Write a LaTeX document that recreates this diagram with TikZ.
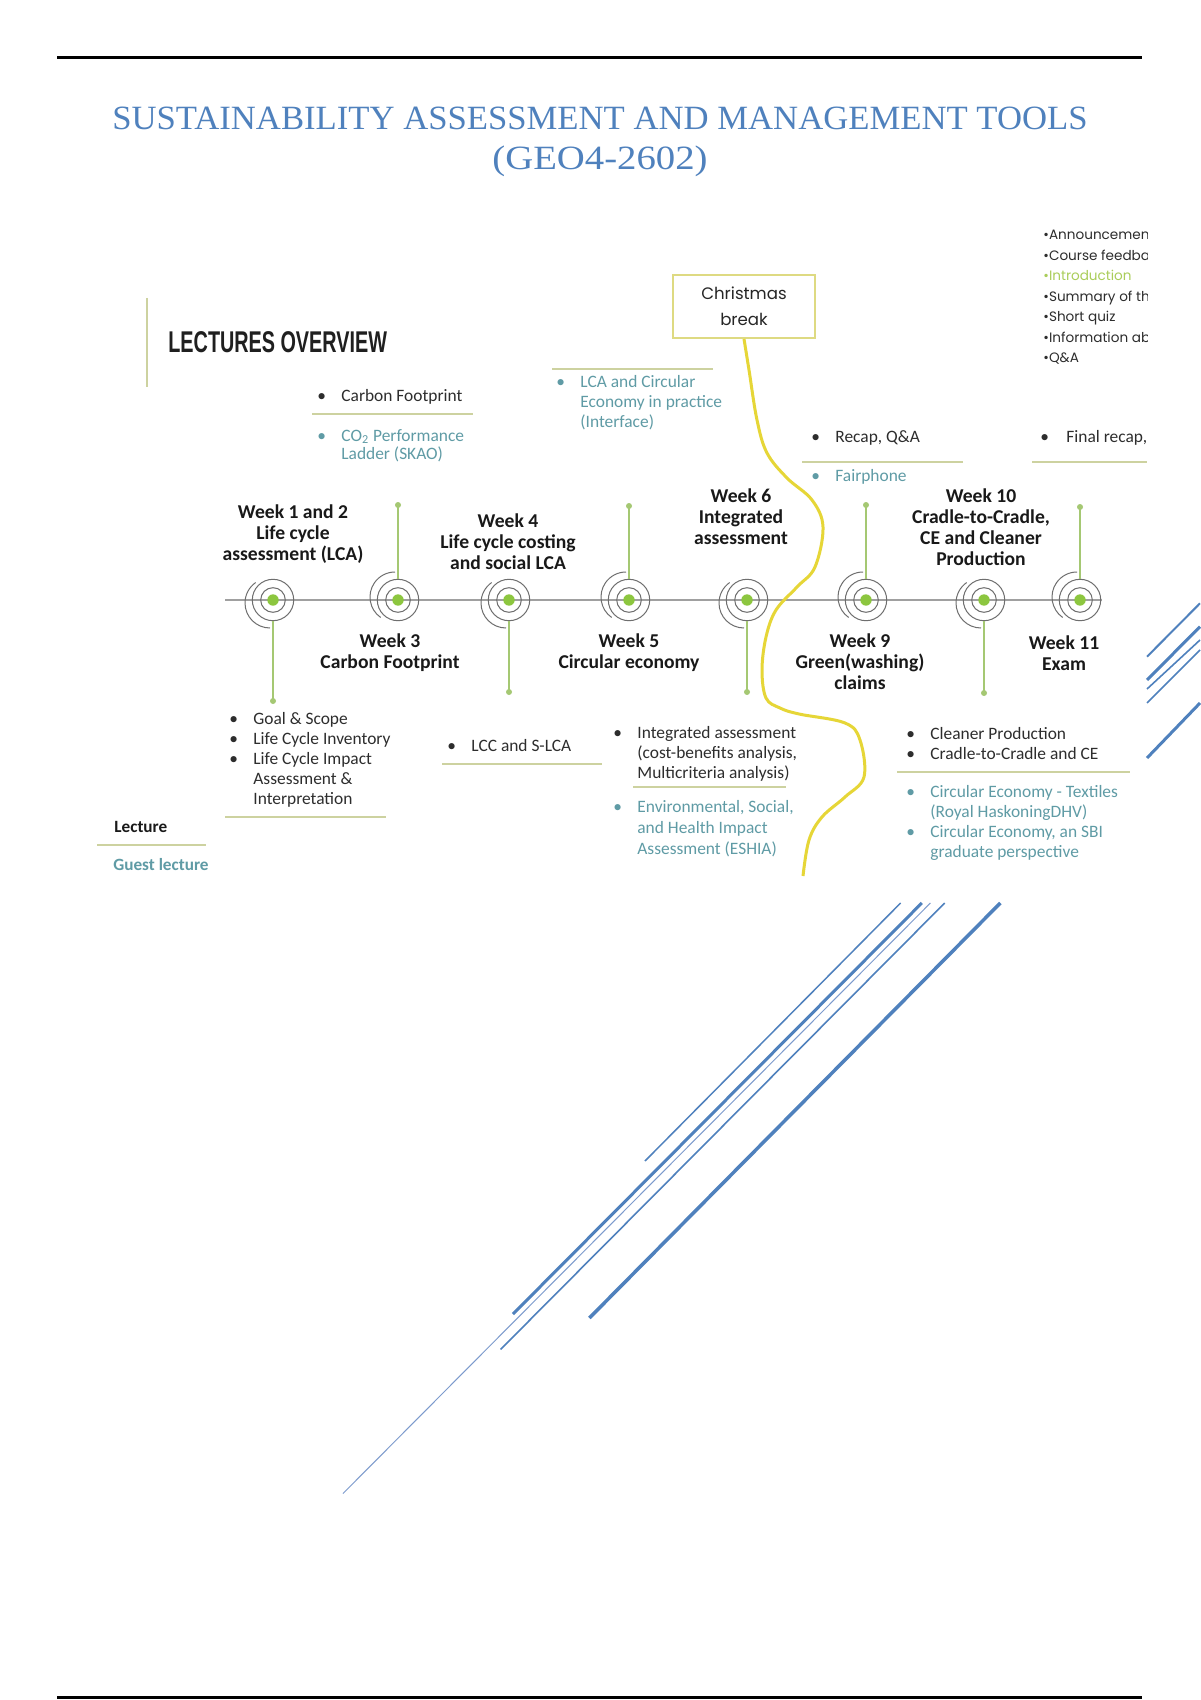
\documentclass[tikz,border=0pt]{standalone}
\usepackage{fontspec}
\setmainfont{Carlito}
\newfontfamily\titlefont{Liberation Serif}
\newfontfamily\gothic{Poppins}
\newfontfamily\headfont{Liberation Sans}
\usetikzlibrary{calc}
\definecolor{titleblue}{RGB}{79,129,189}
\definecolor{olivel}{RGB}{205,210,160}
\definecolor{tealt}{RGB}{95,155,165}
\definecolor{dark}{RGB}{45,45,45}
\definecolor{dotgreen}{RGB}{140,198,63}
\definecolor{stemgreen}{RGB}{165,200,115}
\definecolor{ringgray}{RGB}{110,110,110}
\definecolor{tlgray}{RGB}{160,160,160}
\definecolor{curveyellow}{RGB}{230,214,55}
\definecolor{boxyellow}{RGB}{222,218,130}
\definecolor{introgreen}{RGB}{170,205,90}
\definecolor{lightblue}{RGB}{125,155,205}
\newcommand\bul{\makebox[12pt][l]{\textbullet}}
\newcommand\ind{\hspace*{12pt}}
\tikzset{
  olrule/.style={draw=olivel, line width=1pt},
  bodytxt/.style={anchor=base west, inner sep=0pt, align=left, text=dark, font=\fontsize{8.7}{10}\selectfont},
  guesttxt/.style={bodytxt, text=tealt},
  weekhead/.style={inner sep=0pt, align=center, text=black!90, font=\bfseries\fontsize{9.8}{10.5}\selectfont},
  outring/.style={circle, draw=ringgray, line width=0.5pt, minimum size=20.7pt, inner sep=0pt},
  inring/.style={circle, draw=ringgray, line width=0.5pt, minimum size=12.3pt, inner sep=0pt},
  gdot/.style={circle, fill=dotgreen, minimum size=5.7pt, inner sep=0pt},
  ringarc/.style={draw=ringgray, line width=0.5pt},
  stemline/.style={draw=stemgreen, line width=0.8pt},
  gothtxt/.style={anchor=base west, inner sep=0pt, text=dark, font=\gothic\fontsize{6.8}{8}\selectfont},
  titletxt/.style={inner sep=0pt, text=titleblue, font=\titlefont\fontsize{17}{20}\selectfont}
}
\begin{document}
\begin{tikzpicture}[x=0.5pt,y=-0.5pt]
\useasboundingbox (0,0) rectangle (1200,1700);
\fill[white] (0,0) rectangle (1200,1700);
% page rules
\draw[line width=1.5pt] (57,57.5) -- (1142,57.5);
\draw[line width=1.5pt] (57,1697.5) -- (1142,1697.5);
% title
\node[titletxt] (title1) at (600,118) {\scalebox{1.02}[1]{SUSTAINABILITY ASSESSMENT AND MANAGEMENT TOOLS}};
\node[titletxt] (title2) at (600,161) {\scalebox{1.14}[1]{(GEO4-2602)}};
% decorative blue lines, right edge
\draw[titleblue, line width=1pt] (1147,656.7) -- (1200,603.3);
\draw[titleblue, line width=1.5pt] (1147,680) -- (1200,626.7);
\draw[titleblue, line width=0.8pt] (1147,689) -- (1200,640);
\draw[titleblue, line width=0.8pt] (1147,703) -- (1200,650);
\draw[titleblue, line width=1.5pt] (1147,758) -- (1200,703);
% decorative blue lines, lower group
\draw[titleblue, line width=0.75pt] (900.6,903) -- (645,1161);
\draw[titleblue, line width=1.5pt] (921.8,903) -- (513,1314);
\draw[lightblue, line width=0.5pt] (930.4,903) -- (343,1493.5);
\draw[titleblue, line width=0.8pt] (944.7,903) -- (500.6,1349.4);
\draw[titleblue, line width=1.75pt] (1000.3,903) -- (589.4,1318);
% heading
\draw[olrule] (147,298) -- (147,387);
\node[anchor=west, inner sep=0pt, text=black!88] (lecov) at (168,342) {\scalebox{0.66}[1]{\headfont\bfseries\fontsize{15}{15}\selectfont LECTURES OVERVIEW}};
% timeline
\draw[tlgray, line width=0.8pt] (225,600) -- (1102,600);
\foreach \n/\x/\e/\dy/\a/\b in {1/273/701/3/90/235, 3/398/505/-3/125/270, 4/509/692/3/90/235, 5/629/506/-3/125/270, 6/747/692/3/90/235, 9/866/505/-3/125/270, 10/984/693/3/90/235, 11/1080/507/-3/125/270}{
  \node[outring] (w\n) at (\x,600) {};
  \node[inring] (wi\n) at (w\n) {};
  \node[gdot] (wd\n) at (w\n) {};
  \draw[ringarc] (w\n) ++(-3,\dy) ++(\a:25) arc[start angle=\a, end angle=\b, radius=25];
  \coordinate (s\n) at (\x,\e);
  \draw[stemline] (w\n) -- (s\n);
  \fill[stemgreen] (s\n) circle[radius=3];
}
% week labels
\node[weekhead] (lab1) at (293,534) {Week 1 and 2\\Life cycle\\assessment (LCA)};
\node[weekhead] (lab3) at (390,653) {Week 3\\Carbon Footprint};
\node[weekhead] (lab4) at (508,542) {Week 4\\Life cycle costing\\and social LCA};
\node[weekhead] (lab5) at (629,653) {Week 5\\Circular economy};
\node[weekhead] (lab6) at (741,517) {Week 6\\Integrated\\assessment};
\node[weekhead] (lab9) at (860,662) {Week 9\\Green(washing)\\claims};
\node[weekhead] (lab10) at (981,527) {Week 10\\Cradle-to-Cradle,\\CE and Cleaner\\Production};
\node[weekhead] (lab11) at (1064,653) {Week 11\\Exam};
% upper blocks (base anchor = baseline of last line)
\node[bodytxt] (cf1) at (317,401) {\bul Carbon Footprint};
\draw[olrule] (312,414) -- (473,414);
\node[guesttxt, font=\fontsize{8.7}{9}\selectfont] (cf2) at (317,459) {\bul CO\textsubscript{2} Performance\\\ind Ladder (SKAO)};
\draw[olrule] (552,369) -- (713,369);
\node[guesttxt] (lca) at (556,428) {\bul LCA and Circular\\\ind Economy in practice\\\ind (Interface)};
\node[draw=boxyellow, line width=1pt, minimum width=71pt, minimum height=31.5pt, inner sep=0pt, align=center, font=\gothic\fontsize{8.3}{13}\selectfont, text=black!85] (xmas) at (744,306.5) {Christmas\\break};
\draw[curveyellow, line width=1.5pt] plot[smooth, tension=0.6] coordinates {(xmas.south) (749,370) (757,420) (767,453) (787,478) (812,500) (823,527) (815,567) (797,587) (776,610) (766,637) (762,670) (766,698) (780,708) (799,714) (845,723) (860,740) (864,777) (845,797) (822,817) (809,840) (803,876)};
\node[bodytxt] (recap) at (811,443) {\bul Recap, Q\&A};
\draw[olrule] (802,462) -- (963,462);
\node[guesttxt] (fair) at (811,481) {\bul Fairphone};
% top right clipped list
\begin{scope}
\clip (1000,200) rectangle (1147,480);
\node[gothtxt] (tr1) at (1043,240) {\textbullet Announcement};
\node[gothtxt] (tr2) at (1043,260.5) {\textbullet Course feedba};
\node[gothtxt, text=introgreen] (tr3) at (1043,281) {\textbullet Introduction};
\node[gothtxt] (tr4) at (1043,301.5) {\textbullet Summary of th};
\node[gothtxt] (tr5) at (1043,322) {\textbullet Short quiz};
\node[gothtxt] (tr6) at (1043,342.5) {\textbullet Information ab};
\node[gothtxt] (tr7) at (1043,363) {\textbullet Q\&A};
\node[bodytxt] (final) at (1040,443) {\makebox[13pt][l]{\textbullet}Final recap,};
\draw[olrule] (1032,462) -- (1147,462);
\end{scope}
% lower blocks
\node[bodytxt] (goal) at (229,804) {\bul Goal \& Scope\\\bul Life Cycle Inventory\\\bul Life Cycle Impact\\\ind Assessment \&\\\ind Interpretation};
\draw[olrule] (225,817) -- (386,817);
\node[bodytxt] (lcc) at (447,751) {\bul LCC and S-LCA};
\draw[olrule] (442,764) -- (602,764);
\node[bodytxt] (integ) at (613,778) {\bul Integrated assessment\\\ind (cost-benefits analysis,\\\ind Multicriteria analysis)};
\draw[olrule] (633,787) -- (786,787);
\node[guesttxt, font=\fontsize{8.7}{10.3}\selectfont] (eshia) at (613,854) {\bul Environmental, Social,\\\ind and Health Impact\\\ind Assessment (ESHIA)};
\node[bodytxt] (clean) at (906,759) {\bul Cleaner Production\\\bul Cradle-to-Cradle and CE};
\draw[olrule] (897,772) -- (1130,772);
\node[guesttxt] (circ) at (906,857) {\bul Circular Economy - Textiles\\\ind (Royal HaskoningDHV)\\\bul Circular Economy, an SBI\\\ind graduate perspective};
% legend
\node[bodytxt, font=\bfseries\fontsize{8.6}{9}\selectfont, text=black!90] (leglec) at (114,832) {Lecture};
\draw[olrule] (97,845) -- (206,845);
\node[bodytxt, font=\bfseries\fontsize{8.6}{9}\selectfont, text=tealt] (legguest) at (113,870) {Guest lecture};
\end{tikzpicture}
\end{document}
